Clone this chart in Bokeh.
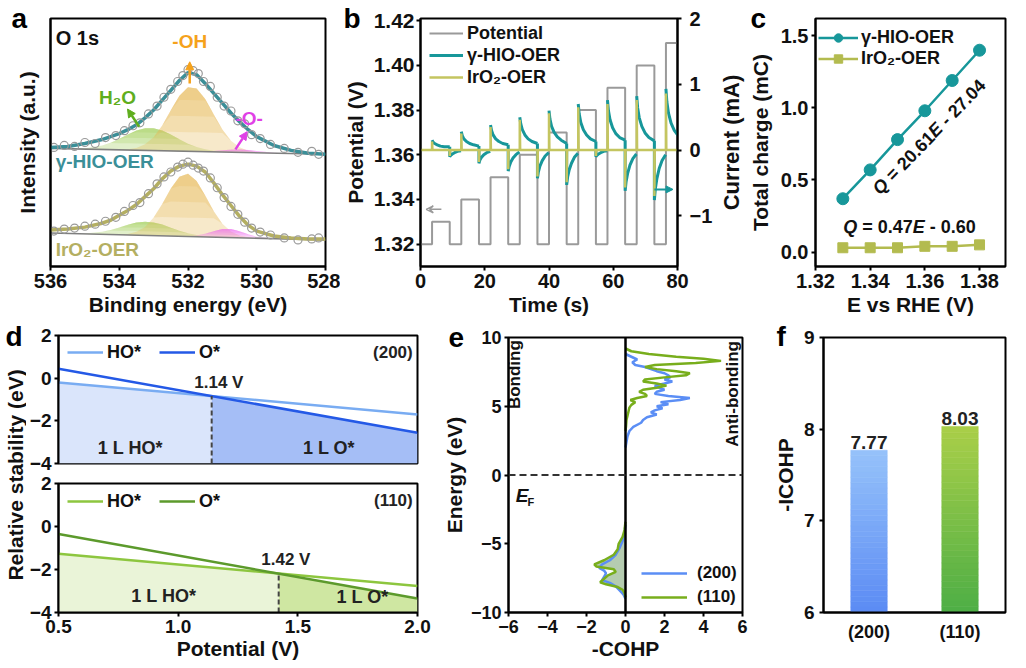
import math
import numpy as np
from bokeh.plotting import figure
from bokeh.layouts import row, column
from bokeh.models import (Range1d, LinearAxis, FixedTicker, NumeralTickFormatter,
                          Legend, LegendItem, Arrow, VeeHead, NormalHead,
                          Span, FactorRange)
from bokeh.core.properties import value
from bokeh.embed import file_html
from bokeh.resources import INLINE

FONT = "Liberation Sans"

# ---------------- (a) O 1s XPS ----------------
xps_energy = [536.0, 535.5, 535.0, 534.5, 534.25, 534.0, 533.75, 533.5, 533.25, 533.0,
              532.75, 532.5, 532.25, 532.0, 531.75, 531.5, 531.25, 531.0, 530.75, 530.5,
              530.25, 530.0, 529.5, 529.0, 528.5, 528.0]
hio_envelope = [121, 122, 125, 129, 132, 135, 139, 144, 151, 159,
                169, 179, 189, 197, 195, 186, 176, 166, 156, 147,
                139, 132, 123, 118, 115, 114]
hio_background = [120, 114]          # intensity at 536 eV and 528 eV
hio_h2o = [0, 0.1, 0.9, 4.0, 7.1, 11.2, 15.8, 20.0, 22.5, 22.8, 20.6, 16.7, 12.1, 7.8,
           4.6, 2.4, 1.1, 0.5, 0, 0, 0, 0, 0, 0, 0, 0]
hio_oh = [0, 0, 0, 0, 0, 0.2, 0.8, 2.4, 6.2, 13.7, 25.8, 41.3, 56.3, 65.1, 64.1, 53.6,
          38.1, 23.0, 11.8, 5.2, 1.9, 0.6, 0, 0, 0, 0]
hio_lattice = [0, 0, 0, 0, 0, 0, 0, 0, 0, 0, 0, 0, 0, 0, 0, 0.3, 0.9, 1.8, 2.6, 3.0,
               2.6, 1.8, 0.4, 0, 0, 0]
raw_energy = [535.9, 535.6, 535.3, 535.0, 534.7, 534.4, 534.1, 533.85, 533.6, 533.4,
              533.15, 532.9, 532.7, 532.5, 532.3, 532.15, 532.0, 531.85, 531.7, 531.55,
              531.35, 531.15, 530.95, 530.75, 530.55, 530.35, 530.15, 529.9, 529.6, 529.2,
              528.8, 528.4, 528.2]
hio_raw = [121, 123, 122, 126, 125, 131, 133, 138, 143, 146, 155, 163, 172, 180, 188, 194,
           200, 199, 196, 188, 183, 172, 163, 158, 148, 145, 134, 130, 124, 120, 116, 117, 114]
iro2_envelope = [37, 38, 40, 44, 47, 52, 57, 63, 71, 79,
                 89, 97, 102, 104, 102, 96, 85, 73, 62, 51,
                 42, 36, 31, 29, 28, 28]
iro2_background = [34, 27]
iro2_h2o = [0, 0.1, 0.5, 2.5, 4.5, 7.3, 10.3, 12.8, 14.0, 13.4, 11.4, 8.5, 5.6, 3.2,
            1.6, 0.7, 0.2, 0, 0, 0, 0, 0, 0, 0, 0, 0]
iro2_oh = [0, 0, 0, 0, 0, 0.3, 1.1, 3.5, 8.6, 18.3, 32.4, 48.3, 60.5, 63.8, 56.5, 42.0,
           26.3, 13.8, 6.1, 2.3, 0.7, 0, 0, 0, 0, 0]
iro2_lattice = [0, 0, 0, 0, 0, 0, 0, 0, 0, 0, 0, 0, 0, 0.3, 1.2, 3.2, 6.1, 8.5, 8.8, 6.7,
                3.7, 1.5, 0.1, 0, 0, 0]
iro2_raw = [36, 38, 39, 41, 43, 46, 50, 56, 62, 65, 74, 84, 91, 96, 101, 104, 106, 103,
            100, 97, 90, 80, 70, 61, 53, 45, 39, 35, 32, 29, 27, 28, 29]

# ---------------- (b) potential steps / current ----------------
step_on = [3.6, 12.7, 21.8, 30.9, 40.0, 49.1, 58.2, 67.3, 76.4]
step_off = [9.1, 18.2, 27.3, 36.4, 45.5, 54.6, 63.7, 72.8, 81.9]
step_level = [1.33, 1.34, 1.35, 1.36, 1.37, 1.38, 1.39, 1.40, 1.41]
step_base = 1.32
rise_dt = [0.0, 0.3, 0.8, 1.6, 2.6, 3.8, 5.5]
hio_rise = [[0.15, 0.12, 0.10, 0.08, 0.06, 0.05, 0.05],
            [0.28, 0.22, 0.17, 0.13, 0.10, 0.08, 0.06],
            [0.38, 0.30, 0.23, 0.17, 0.13, 0.10, 0.08],
            [0.50, 0.40, 0.31, 0.23, 0.17, 0.13, 0.10],
            [0.60, 0.47, 0.36, 0.27, 0.20, 0.15, 0.10],
            [0.70, 0.55, 0.42, 0.31, 0.23, 0.17, 0.13],
            [0.76, 0.60, 0.46, 0.34, 0.25, 0.19, 0.15],
            [0.82, 0.64, 0.49, 0.36, 0.26, 0.19, 0.14],
            [0.93, 0.73, 0.56, 0.41, 0.30, 0.22, 0.17]]
fall_dt = [0.0, 0.3, 0.8, 1.5, 2.4, 3.5]
hio_fall = [[-0.10, -0.08, -0.06, -0.04, -0.02, -0.01],
            [-0.20, -0.15, -0.11, -0.07, -0.04, -0.02],
            [-0.32, -0.25, -0.18, -0.12, -0.07, -0.03],
            [-0.43, -0.33, -0.24, -0.16, -0.09, -0.04],
            [-0.53, -0.41, -0.30, -0.20, -0.11, -0.05],
            [-0.10, -0.08, -0.06, -0.04, -0.02, -0.01],
            [-0.62, -0.48, -0.35, -0.23, -0.13, -0.06],
            [-0.76, -0.59, -0.43, -0.28, -0.16, -0.07]]
iro2_rise = [0.13, 0.25, 0.35, 0.46, 0.56, 0.65, 0.70, 0.76, 0.86]
iro2_fall = [-0.09, -0.18, -0.29, -0.40, -0.49, -0.09, -0.57, -0.70]

# ---------------- (c) total charge ----------------
charge_E = [1.33, 1.34, 1.35, 1.36, 1.37, 1.38]
charge_hio = [0.37, 0.57, 0.78, 0.98, 1.19, 1.40]
charge_iro2 = [0.03, 0.03, 0.03, 0.04, 0.04, 0.05]

# ---------------- (d) surface Pourbaix ----------------
d_potential = [0.5, 2.0]
d200_ho = [-0.20, -1.70]
d200_o = [0.44, -2.56]
d200_cross = 1.14
d110_ho = [-1.27, -2.77]
d110_o = [-0.35, -3.35]
d110_cross = 1.42

# ---------------- (e) COHP ----------------
e110_pos_E = [9.2, 9.0, 8.8, 8.6, 8.45, 8.3, 8.15, 8.0, 7.85, 7.7, 7.55, 7.4, 7.25, 7.1,
              6.95, 6.8, 6.65, 6.5, 6.35, 6.2, 6.05, 5.9, 5.75, 5.6, 5.45, 5.3, 5.1, 4.9,
              4.6, 4.3, 4.0, 3.6, 3.2]
e110_pos_c = [0.0, 0.3, 1.2, 2.6, 4.0, 4.9, 3.6, 1.5, 1.0, 1.6, 2.6, 3.3, 3.1, 2.0,
              1.0, 0.9, 1.6, 2.1, 1.6, 0.9, 0.7, 1.0, 1.1, 0.6, 0.25, 0.5, 0.3, 0.2,
              0.15, 0.1, 0.05, 0.03, 0.0]
e200_pos_E = [8.8, 8.6, 8.4, 8.2, 8.0, 7.85, 7.7, 7.55, 7.4, 7.25, 7.1, 6.95, 6.8, 6.65,
              6.5, 6.35, 6.2, 6.05, 5.9, 5.75, 5.6, 5.45, 5.3, 5.15, 5.0, 4.85, 4.7, 4.55,
              4.4, 4.2, 4.0, 3.8, 3.5, 3.2, 2.8, 2.4, 2.0]
e200_pos_c = [0.0, 0.3, 0.6, 0.35, 0.5, 1.0, 1.3, 1.6, 2.0, 2.2, 2.3, 2.0, 2.4, 2.0,
              1.5, 1.7, 2.0, 1.6, 1.5, 2.2, 3.3, 2.8, 1.8, 2.2, 1.6, 1.9, 1.5, 1.3,
              1.6, 1.1, 0.9, 0.8, 0.4, 0.2, 0.1, 0.05, 0.0]
e110_neg_E = [-3.4, -4.0, -4.5, -5.0, -5.4, -5.8, -6.2, -6.5, -6.65, -6.85, -7.05, -7.3,
              -7.55, -7.8, -7.95, -8.15, -8.35, -8.6, -8.9]
e110_neg_c = [0.0, -0.05, -0.15, -0.35, -0.4, -0.6, -1.1, -1.6, -1.5, -0.6, -0.5, -0.9,
              -1.1, -1.3, -1.0, -0.4, -0.15, -0.05, 0.0]
e200_neg_E = [-3.6, -4.2, -4.8, -5.3, -5.8, -6.2, -6.5, -6.75, -6.95, -7.15, -7.4, -7.65,
              -7.85, -8.1, -8.4, -8.7, -9.0]
e200_neg_c = [0.0, -0.05, -0.15, -0.3, -0.5, -0.8, -1.2, -1.35, -1.1, -1.0, -1.1, -1.2,
              -0.8, -0.5, -0.3, -0.1, 0.0]

# ---------------- (f) -ICOHP ----------------
icohp_facets = ["(200)", "(110)"]
icohp = [7.77, 8.03]

TEAL = "#17979A"
OLIVE = "#C4C560"

# advance widths (em) of Liberation Sans Bold, used to lay out mixed-style text
ADV = {"Q": 0.778, "E": 0.667, " ": 0.278, "=": 0.584, "-": 0.333, ".": 0.278}
for _d in "0123456789":
    ADV[_d] = 0.556


def style_axis(ax, tick_fs="19px", lab_fs="21px"):
    ax.axis_line_width = 2
    ax.axis_line_color = "black"
    ax.major_tick_line_width = 2
    ax.major_tick_line_color = "black"
    ax.major_tick_out = 4
    ax.major_tick_in = 0
    ax.minor_tick_line_color = None
    ax.major_label_text_font = FONT
    ax.major_label_text_font_style = "bold"
    ax.major_label_text_font_size = tick_fs
    ax.major_label_text_color = "#111111"
    ax.major_label_standoff = 3
    ax.axis_label_text_font = FONT
    ax.axis_label_text_font_style = "bold"
    ax.axis_label_text_font_size = lab_fs
    ax.axis_label_text_color = "#111111"
    ax.axis_label_standoff = 3


def fig(width, height, xr, yr, ml, mr, mt, mb, tick_fs="19px", **kw):
    p = figure(width=width, height=height, x_range=xr, y_range=yr,
               output_backend="svg", toolbar_location=None,
               min_border_left=ml, min_border_right=mr,
               min_border_top=mt, min_border_bottom=mb, **kw)
    p.xgrid.visible = False
    p.ygrid.visible = False
    p.outline_line_color = "black"
    p.outline_line_width = 2
    p.outline_line_alpha = 1.0
    for ax in p.axis:
        style_axis(ax, tick_fs=tick_fs)
    return p


def txt(p, x, y, s, color="#111111", size="18px", align="center", baseline="middle",
        angle=0.0, style="bold", **kw):
    return p.text(x=[x], y=[y], text=[s], text_color=color, text_font=value(FONT),
                  text_font_size=size, text_font_style=style, text_align=align,
                  text_baseline=baseline, angle=angle, **kw)


def rich_txt(p, x, y, pieces, size, angle=0.0, color="#111111"):
    """pieces: list of (text, style); centred on (x, y) along direction `angle`."""
    widths = [sum(ADV.get(ch, 0.556) for ch in s) * size for s, _ in pieces]
    o = -sum(widths) / 2.0
    ca, sa = math.cos(angle), math.sin(angle)
    for (s, st), w in zip(pieces, widths):
        if s.strip():
            txt(p, x, y, s, color=color, size="%dpx" % size, align="left", style=st,
                angle=angle, x_offset=o * ca, y_offset=-o * sa)
        o += w


def letter(p, s, offset, standoff):
    # panel letter drawn as the (left aligned) plot title, overlapping the top border
    t = p.title
    t.text = s
    t.align = "left"
    t.offset = offset
    t.vertical_align = "middle"
    t.standoff = standoff
    t.text_font = FONT
    t.text_font_size = "28px"
    t.text_font_style = "bold"
    t.text_color = "black"


def style_legend(lg, fs="18px"):
    lg.label_text_font = FONT
    lg.label_text_font_style = "bold"
    lg.label_text_font_size = fs
    lg.label_text_color = "#111111"
    lg.background_fill_alpha = 0
    lg.border_line_color = None
    lg.padding = 0
    lg.margin = 0
    lg.spacing = 0
    lg.label_standoff = 4


# ====================== panel a ======================
pa = fig(340, 318, Range1d(536, 528), Range1d(0, 252), 50, 15, 15, 51, tick_fs="20px")
pa.xaxis.ticker = FixedTicker(ticks=[536, 534, 532, 530, 528])
pa.xaxis.axis_label = "Binding energy (eV)"
pa.xaxis.major_label_standoff = 3
pa.xaxis.axis_label_standoff = 2
pa.yaxis.ticker = FixedTicker(ticks=[])
pa.yaxis.major_tick_out = 0
pa.yaxis.axis_label = "Intensity (a.u.)"
pa.yaxis.axis_label_standoff = 12

E = np.array(xps_energy, dtype=float)


def xps_component(p, base, h, color):
    h = np.asarray(h, dtype=float)
    top = base + h
    p.varea(x=E, y1=base, y2=top, fill_color=color, fill_alpha=0.30)
    hm = h.max()
    for f in (0.3, 0.55, 0.8):
        lv = np.minimum(h, hm * f)
        p.varea(x=E, y1=base + lv, y2=top, fill_color=color, fill_alpha=0.22)


for bg, comps, env, raw, col in [
        (hio_background, (hio_h2o, hio_oh, hio_lattice), hio_envelope, hio_raw, "#3B8F98"),
        (iro2_background, (iro2_h2o, iro2_oh, iro2_lattice), iro2_envelope, iro2_raw, "#B4AF62")]:
    base = np.interp(E, [528.0, 536.0], [bg[1], bg[0]])
    for h, c in zip(comps, ("#9BCB4E", "#E6B650", "#EE66EE")):
        xps_component(pa, base, h, c)
    pa.line(x=[536, 528], y=bg, line_color="#7F7F7F", line_width=1.6)
    pa.line(x=E, y=env, line_color=col, line_width=3.5)
    pa.scatter(x=raw_energy, y=raw, marker="circle", size=8, fill_color=None,
               line_color="#9A9A9A", line_width=1.2)

txt(pa, 535.85, 232, "O 1s", size="20px", align="left")
txt(pa, 531.95, 229, "-OH", color="#F5A21C", size="19px")
pa.add_layout(Arrow(end=NormalHead(size=8, fill_color="#F5A21C", line_color="#F5A21C"),
                    x_start=531.95, y_start=186, x_end=531.95, y_end=208,
                    line_color="#F5A21C", line_width=2.5))
txt(pa, 534.05, 172, "H₂O", color="#5FAE1E", size="19px")
pa.add_layout(Arrow(end=NormalHead(size=8, fill_color="#5FAE1E", line_color="#5FAE1E"),
                    x_start=533.42, y_start=142, x_end=533.76, y_end=160,
                    line_color="#5FAE1E", line_width=2.5))
txt(pa, 530.22, 150, "-O-", color="#E040E6", size="19px")
pa.add_layout(Arrow(end=NormalHead(size=8, fill_color="#E040E6", line_color="#E040E6"),
                    x_start=530.62, y_start=119, x_end=530.28, y_end=137,
                    line_color="#E040E6", line_width=2.5))
txt(pa, 535.85, 107, "γ-HIO-OER", color="#3B8F98", size="19px", align="left")
txt(pa, 535.85, 17, "IrO₂-OER", color="#B4AF62", size="19px", align="left")
letter(pa, "a", -39, -38)

# ====================== panel b ======================
# width 375: its right border holds only the current tick labels; the current axis
# title lives in the (wider) left border of panel c, right next to it.
pb = fig(375, 318, Range1d(0, 80), Range1d(1.31, 1.421), 78, 32, 18, 51, tick_fs="20px")
pb.extra_y_ranges = {"cur": Range1d(-1.77, 2.0)}
pb.xaxis.ticker = FixedTicker(ticks=[0, 20, 40, 60, 80])
pb.xaxis.axis_label = "Time (s)"
pb.xaxis.major_label_standoff = 3
pb.xaxis.axis_label_standoff = 2
pb.yaxis.ticker = FixedTicker(ticks=[1.32, 1.34, 1.36, 1.38, 1.40, 1.42])
pb.yaxis.formatter = NumeralTickFormatter(format="0.00")
pb.yaxis.major_label_text_font_size = "21px"
pb.yaxis.axis_label = "Potential (V)"
pb.yaxis.major_label_standoff = 2
pb.yaxis.axis_label_standoff = 4
rax = LinearAxis(y_range_name="cur", ticker=FixedTicker(ticks=[-1, 0, 1, 2]))
style_axis(rax, tick_fs="20px")
rax.major_label_standoff = 8
pb.add_layout(rax, "right")

px, py = [0.0], [step_base]
for ton, toff, lv in zip(step_on, step_off, step_level):
    px += [ton, ton, toff, toff]
    py += [step_base, lv, lv, step_base]
r_pot = pb.line(x=px, y=py, line_color="#9A9A9A", line_width=2)

seg_x, seg_y = [], []
for ton, cur in zip(step_on, hio_rise):
    seg_x.append([ton + d for d in rise_dt])
    seg_y.append(cur)
for toff, prev, cur in zip(step_off[:-1], hio_rise, hio_fall):
    seg_x.append([toff] + [toff + d for d in fall_dt])
    seg_y.append([prev[-1]] + cur)
r_hio = pb.multi_line(xs=seg_x, ys=seg_y, line_color=TEAL, line_width=3,
                      y_range_name="cur")

ix, iy = [0.0], [0.0]
events = sorted(list(zip(step_on, iro2_rise)) + list(zip(step_off[:-1], iro2_fall)))
for t, s in events:
    ix += [t, t, t + 0.12]
    iy += [0.0, s, 0.0]
ix.append(80.0)
iy.append(0.0)
r_iro = pb.line(x=ix, y=iy, line_color=OLIVE, line_width=2.5, y_range_name="cur")

pb.add_layout(Arrow(end=VeeHead(size=7, line_color="#9A9A9A", line_width=1.5, fill_color=None),
                    x_start=6.5, y_start=1.3356, x_end=1.8, y_end=1.3356,
                    line_color="#9A9A9A", line_width=1.5))
pb.add_layout(Arrow(end=NormalHead(size=7, fill_color=TEAL, line_color=TEAL),
                    x_start=72.8, y_start=1.3445, x_end=78.6, y_end=1.3445,
                    line_color=TEAL, line_width=2))
lgb = Legend(items=[LegendItem(label="Potential", renderers=[r_pot]),
                    LegendItem(label="γ-HIO-OER", renderers=[r_hio]),
                    LegendItem(label="IrO₂-OER", renderers=[r_iro])],
             location=(9, 178))
style_legend(lgb)
lgb.glyph_width = 34
lgb.glyph_height = 22
lgb.label_height = 22
pb.add_layout(lgb)
letter(pb, "b", -77, -38)

# ====================== panel c ======================
pc = fig(311, 318, Range1d(1.32, 1.3895), Range1d(-0.1, 1.62), 94, 21, 15, 51,
         tick_fs="20px")
pc.xaxis.ticker = FixedTicker(ticks=[1.32, 1.34, 1.36, 1.38])
pc.xaxis.formatter = NumeralTickFormatter(format="0.00")
pc.xaxis.axis_label = "E vs RHE (V)"
pc.xaxis.major_label_standoff = 3
pc.xaxis.axis_label_standoff = 2
pc.yaxis.ticker = FixedTicker(ticks=[0.0, 0.5, 1.0, 1.5])
pc.yaxis.formatter = NumeralTickFormatter(format="0.0")
pc.yaxis.axis_label = "Total charge (mC)"
pc.yaxis.axis_label_standoff = 6
# outer bare axis carrying the title of panel b's right-hand (current) axis
cur_title = LinearAxis(ticker=FixedTicker(ticks=[]), axis_label="Current (mA)")
style_axis(cur_title, lab_fs="22px")
cur_title.axis_line_color = None
cur_title.major_tick_out = 0
cur_title.major_label_standoff = 0
cur_title.axis_label_standoff = 2
pc.add_layout(cur_title, "left")

l1 = pc.line(x=charge_E, y=charge_hio, line_color=TEAL, line_width=2.5)
s1 = pc.scatter(x=charge_E, y=charge_hio, marker="circle", size=12, fill_color=TEAL,
                line_color=TEAL)
l2 = pc.line(x=charge_E, y=charge_iro2, line_color="#B3BB4F", line_width=2.5)
s2 = pc.scatter(x=charge_E, y=charge_iro2, marker="square", size=10,
                fill_color="#B3BB4F", line_color="#B3BB4F")
lgc = Legend(items=[LegendItem(label="γ-HIO-OER", renderers=[l1, s1]),
                    LegendItem(label="IrO₂-OER", renderers=[l2, s2])],
             location=(3, 197))
style_legend(lgc)
lgc.glyph_width = 40
lgc.glyph_height = 21
lgc.label_height = 21
lgc.label_standoff = 3
pc.add_layout(lgc)
rich_txt(pc, 1.3615, 0.80, [("Q", "bold italic"), (" ", "bold"), ("=", "bold"),
                            (" ", "bold"), ("20.61", "bold"), ("E", "bold italic"),
                            (" ", "bold"), ("-", "bold"), (" ", "bold"),
                            ("27.04", "bold")], 18, angle=0.80)
rich_txt(pc, 1.3544, 0.177, [("Q", "bold italic"), (" ", "bold"), ("=", "bold"),
                             (" ", "bold"), ("0.47", "bold"), ("E", "bold italic"),
                             (" ", "bold"), ("-", "bold"), (" ", "bold"),
                             ("0.60", "bold")], 18)
letter(pc, "c", -65, -38)

# ====================== panel d ======================
lab = figure(width=26, height=350, x_range=Range1d(0, 1), y_range=Range1d(0, 1),
             output_backend="svg", toolbar_location=None, x_axis_location=None,
             y_axis_location="left", min_border=0)
lab.outline_line_color = None
lab.xgrid.visible = False
lab.ygrid.visible = False
style_axis(lab.yaxis[0])
lab.yaxis.ticker = FixedTicker(ticks=[])
lab.yaxis.major_tick_out = 0
lab.yaxis.axis_line_color = None
lab.yaxis.axis_label = "Relative stability (eV)"
lab.yaxis.axis_label_standoff = 0
letter(lab, "d", -21, -30)


def panel_d(height, mt, mb, ho, o, cross, c_ho, c_o, f_left, f_right, facet, show_x):
    p = fig(413, height, Range1d(0.5, 2.0), Range1d(-4, 2), 24, 22, mt, mb)
    p.yaxis.ticker = FixedTicker(ticks=[-4, -2, 0, 2])
    if show_x:
        p.xaxis.ticker = FixedTicker(ticks=[0.5, 1.0, 1.5, 2.0])
        p.xaxis.formatter = NumeralTickFormatter(format="0.0")
        p.xaxis.axis_label = "Potential (V)"
        p.xaxis.axis_label_standoff = 1
    else:
        p.xaxis.visible = False
    yc = float(np.interp(cross, d_potential, ho))
    xl = [d_potential[0], cross]
    xr = [cross, d_potential[1]]
    p.varea(x=xl, y1=[-4, -4], y2=np.interp(xl, d_potential, ho), fill_color=f_left)
    p.varea(x=xr, y1=[-4, -4], y2=np.interp(xr, d_potential, o), fill_color=f_right)
    r_ho = p.line(x=d_potential, y=ho, line_color=c_ho, line_width=2.5)
    r_o = p.line(x=d_potential, y=o, line_color=c_o, line_width=2.5)
    p.line(x=[cross, cross], y=[-4, yc], line_color="#444444", line_width=2,
           line_dash="5 3")
    txt(p, cross + 0.03, yc + 0.65, "%.2f V" % cross, size="17px", color="#222222")
    txt(p, (d_potential[0] + cross) / 2 - 0.02, -3.25, "1 L HO*", size="18px",
        color="#222222")
    txt(p, (cross + d_potential[1]) / 2 + 0.06, -3.27, "1 L O*", size="18px",
        color="#222222")
    txt(p, 1.98, 1.22, facet, size="17px", align="right", color="#222222")
    lg = Legend(items=[LegendItem(label="HO*", renderers=[r_ho]),
                       LegendItem(label="O*", renderers=[r_o])],
                location=(9, 100), orientation="horizontal")
    style_legend(lg)
    lg.glyph_width = 36
    lg.glyph_height = 22
    lg.label_height = 22
    lg.spacing = 18
    p.add_layout(lg)
    return p


pdt = panel_d(155, 17, 10, d200_ho, d200_o, d200_cross, "#79ACF2", "#2459E6",
              "#DAE5FB", "#A5BEF6", "(200)", False)
pdb = panel_d(195, 10, 56, d110_ho, d110_o, d110_cross, "#8DC63F", "#5C9A2C",
              "#EAF4D8", "#CFE7A2", "(110)", True)

# ====================== panel e ======================
pe = fig(331, 350, Range1d(-6, 6), Range1d(-10, 10), 63, 28, 19, 56, tick_fs="18px")
pe.xaxis.ticker = FixedTicker(ticks=[-6, -4, -2, 0, 2, 4, 6])
pe.xaxis.axis_label = "-COHP"
pe.xaxis.axis_label_standoff = 1
pe.yaxis.ticker = FixedTicker(ticks=[-10, -5, 0, 5, 10])
pe.yaxis.axis_label = "Energy (eV)"
pe.yaxis.axis_label_standoff = 2
pe.harea(y=e110_neg_E, x1=[0.0] * len(e110_neg_E), x2=e110_neg_c,
         fill_color="#96B68E", fill_alpha=0.7)
r200 = pe.line(x=e200_pos_c, y=e200_pos_E, line_color="#5B8EF5", line_width=2.5)
pe.line(x=e200_neg_c, y=e200_neg_E, line_color="#5B8EF5", line_width=2.5)
r110 = pe.line(x=e110_pos_c, y=e110_pos_E, line_color="#78AE1C", line_width=2.5)
pe.line(x=e110_neg_c, y=e110_neg_E, line_color="#78AE1C", line_width=2.5)
pe.add_layout(Span(location=0, dimension="height", line_color="black", line_width=2.5))
pe.add_layout(Span(location=0, dimension="width", line_color="#333333", line_width=2,
                   line_dash="7 4"))
txt(pe, -5.7, 7.3, "Bonding", size="17px", angle=math.pi / 2)
txt(pe, 5.5, 5.9, "Anti-bonding", size="17px", angle=math.pi / 2)
txt(pe, -5.3, -1.5, "E", size="19px", style="bold italic")
txt(pe, -4.85, -1.95, "F", size="11px")
lge = Legend(items=[LegendItem(label="(200)", renderers=[r200]),
                    LegendItem(label="(110)", renderers=[r110])],
             location=(133, 3))
style_legend(lge, fs="17px")
lge.glyph_width = 46
lge.glyph_height = 24
lge.label_height = 24
lge.label_standoff = 10
pe.add_layout(lge)
letter(pe, "e", -60, -30)

# ====================== panel f ======================
pf = fig(256, 350, FactorRange(*icohp_facets), Range1d(6, 9), 47, 21, 17, 56)
pf.yaxis.ticker = FixedTicker(ticks=[6, 7, 8, 9])
pf.yaxis.axis_label = "-ICOHP"
pf.yaxis.major_label_standoff = 5
pf.yaxis.axis_label_standoff = 4
pf.xaxis.major_tick_out = 0
pf.xaxis.major_label_standoff = 9
pf.xaxis.major_label_text_font_size = "18px"


def hex2rgb(h):
    h = h.lstrip("#")
    return tuple(int(h[i:i + 2], 16) for i in (0, 2, 4))


def mix(c1, c2, t):
    a, b = hex2rgb(c1), hex2rgb(c2)
    return "#%02x%02x%02x" % tuple(int(round(a[i] + (b[i] - a[i]) * t)) for i in range(3))


nslice = 30
for cat, v, (cb, ct) in zip(icohp_facets, icohp,
                            [("#5B8BF4", "#96C2FA"), ("#4DAE46", "#AACF48")]):
    edges = np.linspace(6.0, v, nslice + 1)
    cols = [mix(cb, ct, (i + 0.5) / nslice) for i in range(nslice)]
    pf.vbar(x=[cat] * nslice, bottom=edges[:-1], top=edges[1:], width=0.4,
            fill_color=cols, line_color=cols, line_width=0.6)
pf.text(x=icohp_facets, y=icohp, text=["%.2f" % v for v in icohp],
        text_font=value(FONT), text_font_size="19px", text_font_style="bold",
        text_color="#222222", text_align="center", text_baseline="bottom", y_offset=-1)
letter(pf, "f", -47, -30)

layout = column(row(pa, pb, pc), row(lab, column(pdt, pdb), pe, pf))
open("out.html", "w").write(file_html(layout, INLINE))
